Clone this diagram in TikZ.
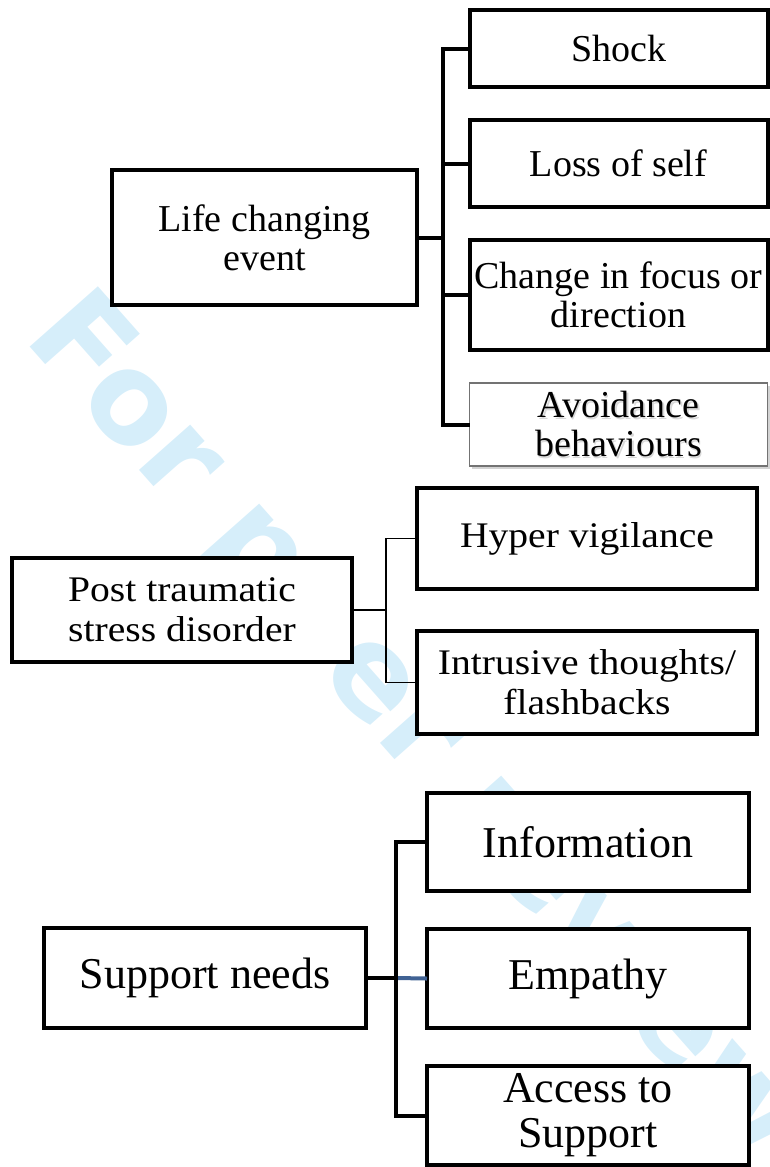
\documentclass[tikz,border=0pt]{standalone}
\usepackage{fontspec}
\setmainfont{Liberation Serif}
\newfontfamily\widefont[FakeStretch=1.1]{Liberation Serif}
\newfontfamily\markfont{DejaVu Sans}
\usetikzlibrary{shadows}

\definecolor{markblue}{RGB}{214,238,250}
\definecolor{stubblue}{RGB}{64,98,148}
% grey copy of a line of text, set just below and right of it
\newcommand{\softtext}[1]{\makebox[0pt][l]{\hspace{1.5pt}\raisebox{-2pt}{\color{black!15}#1}}#1}

\tikzstyle{topbox}=[rectangle,draw,fill=white,line width=4pt,inner sep=0pt,outer sep=0pt,align=center,font=\fontsize{38}{39}\selectfont]
\tikzstyle{softbox}=[topbox,draw=black!55,line width=1.5pt,drop shadow={shadow xshift=2pt,shadow yshift=-3pt,opacity=0.35}]
\tikzstyle{midbox}=[rectangle,draw,fill=white,line width=4.5pt,inner sep=0pt,outer sep=0pt,align=center,font=\widefont\fontsize{36}{40}\selectfont]
\tikzstyle{lowbox}=[rectangle,draw,fill=white,line width=4pt,inner sep=0pt,outer sep=0pt,align=center,font=\fontsize{44}{45}\selectfont]
\tikzstyle{bar} = [draw,line width=4pt]
\tikzstyle{thinbar} = [draw,line width=1.5pt]

\begin{document}
\begin{tikzpicture}[x=1pt,y=-1pt]
	\useasboundingbox (0,0) rectangle (769,1167);
	% watermark behind everything
	\node[text=markblue,font=\markfont\bfseries\fontsize{125}{125}\selectfont,rotate=-48.5,anchor=base west,inner sep=0pt] (mark) at (22,338) {For peer review};

	% Life changing event
	\node[topbox,minimum width=305,minimum height=135] (life) at (264.5,237.5) {Life changing\\event};
	\node[topbox,minimum width=298,minimum height=77] (shock) at (618.5,48.5) {Shock};
	\node[topbox,minimum width=298,minimum height=87] (loss) at (618.5,163.5) {Loss of self};
	\node[topbox,minimum width=298,minimum height=110] (change) at (618.5,295) {Change in focus or\\direction};
	\node[softbox,minimum width=298,minimum height=83] (avoid) at (618.5,424.5) {\softtext{Avoidance}\\\softtext{behaviours}};
	\coordinate (lbus) at (443,238);
	% elbow from the parent to every child
	\foreach \dest in {shock,loss,change,avoid}
		\path[bar] (life.east) -| (lbus |- \dest) -- (\dest.west);

	% Post traumatic stress disorder
	\node[midbox,minimum width=340,minimum height=104] (ptsd) at (182,610) {Post traumatic\\stress disorder};
	\node[midbox,minimum width=340,minimum height=101] (hyper) at (587,538.5) {Hyper vigilance};
	\node[midbox,minimum width=340,minimum height=103] (intrusive) at (587,682.5) {Intrusive thoughts/\\flashbacks};
	\coordinate (pbus) at (386,610);
	\foreach \dest in {hyper,intrusive}
		\path[thinbar] (ptsd.east) -| (pbus |- \dest) -- (\dest.west);

	% Support needs
	\node[lowbox,minimum width=322,minimum height=100] (support) at (205,978) {Support needs};
	\node[lowbox,minimum width=322,minimum height=98] (info) at (588,842) {Information};
	\node[lowbox,minimum width=322,minimum height=99] (empathy) at (588,978.5) {Empathy};
	\node[lowbox,minimum width=322,minimum height=99] (access) at (588,1115.5) {Access to\\Support};
	\coordinate (sbus) at (396,978);
	\path[bar,draw=stubblue] (sbus) -- (empathy.west);
	\path[bar] (support.east) -- (sbus);
	\foreach \dest in {info,access}
		\path[bar] (support.east) -| (sbus |- \dest) -- (\dest.west);
\end{tikzpicture}
\end{document}
